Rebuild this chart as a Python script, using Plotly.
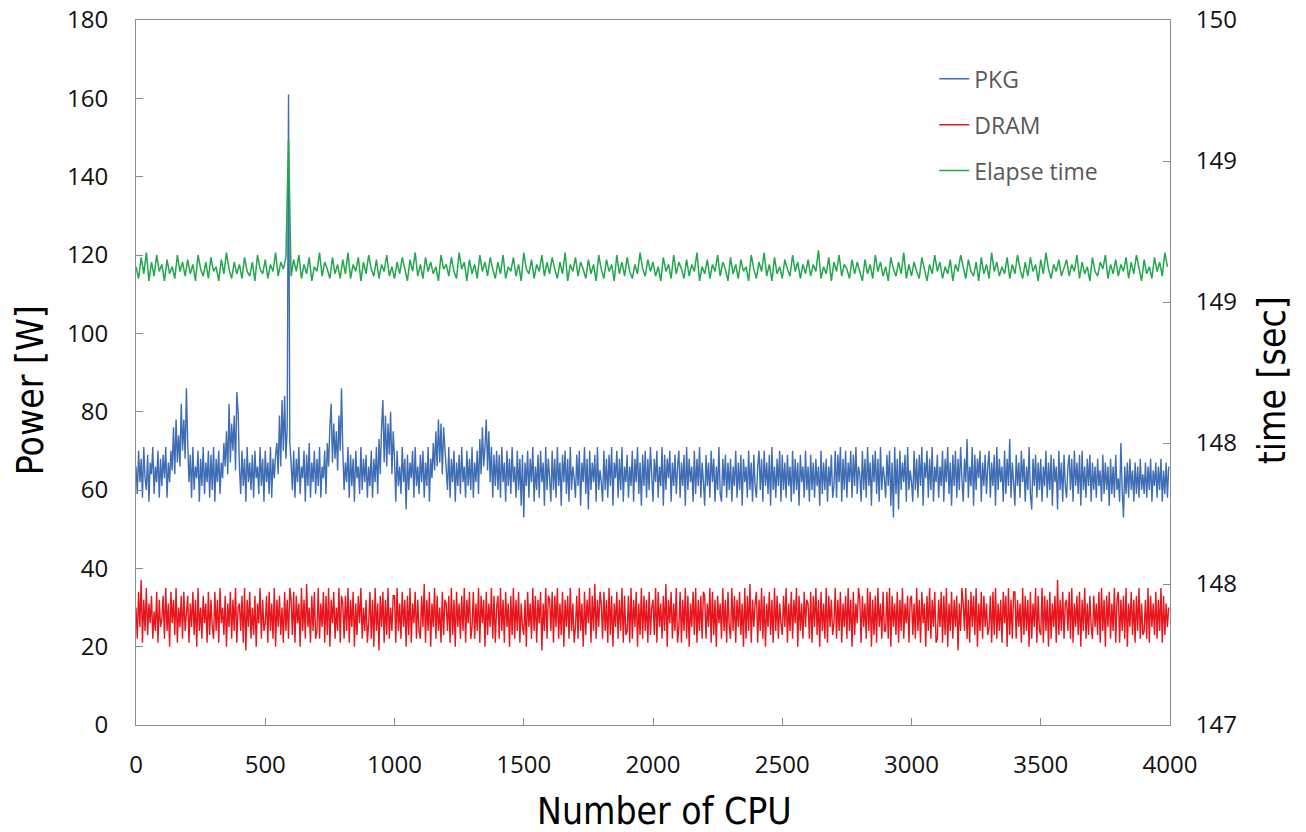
import plotly.graph_objects as go

# CPU index for the power series (every 5 CPUs) and the time series (every 10 CPUs)
cpu_power = list(range(0, 4000, 5))
cpu_time = list(range(0, 4000, 10))

# PKG power [W]
pkg = [
    66,59,70,62,68,58,71,63,60,69,57,67,64,71,59,66,62,70,58,68,
    61,69,63,71,58,67,62,70,65,76,64,78,67,74,66,82,70,78,68,86,
    72,62,69,58,71,60,66,63,70,57,68,61,71,59,67,62,70,58,69,60,
    71,57,68,62,70,59,67,63,72,66,75,64,82,67,77,70,79,65,85,80,
    66,59,70,61,68,57,71,62,67,60,69,58,70,63,66,59,71,61,68,57,
    70,62,67,59,71,58,68,63,69,72,64,79,66,83,70,84,68,76,161,72,
    67,60,70,58,68,62,71,59,66,63,70,57,69,61,72,58,67,62,70,59,
    68,61,71,58,66,63,70,59,72,66,76,82,67,77,68,75,65,79,70,86,
    70,60,67,62,71,58,69,61,68,57,70,63,66,59,71,60,68,62,69,58,
    66,61,70,58,68,62,71,59,73,64,76,83,67,79,66,77,69,80,64,75,
    68,57,70,61,66,59,71,62,68,55,69,60,67,63,70,58,71,61,66,59,
    69,62,70,58,67,61,71,57,68,63,72,65,75,66,78,67,77,64,76,70,
    66,60,71,58,68,62,70,57,67,61,69,59,71,62,66,58,70,61,68,60,
    71,58,67,62,70,59,73,64,76,66,71,78,65,75,62,71,58,69,61,70,
    60,69,58,71,62,67,57,70,61,68,59,71,62,66,58,70,60,68,56,69,
    53,67,61,70,58,68,62,71,57,66,60,69,58,70,62,67,56,71,60,68,
    63,57,70,60,68,58,71,61,67,56,69,62,70,59,68,57,71,60,66,63,
    58,69,61,70,56,67,62,71,59,68,55,70,60,67,62,69,57,71,60,65,
    62,57,70,60,68,58,69,61,71,56,67,63,70,58,68,60,71,57,66,62,
    69,58,66,61,70,57,68,62,71,59,67,56,69,61,70,58,68,60,71,63,
    57,68,62,70,58,66,61,71,56,69,60,68,63,70,57,67,61,69,59,66,
    70,58,67,61,69,56,71,60,68,62,66,57,70,59,68,61,71,58,67,62,
    56,69,61,67,58,70,62,68,57,66,60,71,59,57,68,61,69,58,67,60,
    68,57,66,61,70,58,67,60,69,56,68,62,66,58,70,60,67,57,69,61,
    58,66,70,60,68,57,70,61,67,59,69,56,71,60,66,58,68,61,70,57,
    69,60,67,58,69,61,66,57,70,59,68,60,67,56,69,62,66,58,70,60,
    66,57,69,60,67,58,68,61,66,56,70,59,67,60,68,57,66,61,69,58,
    61,70,58,69,62,71,57,68,60,70,58,67,62,70,58,69,61,71,59,66,
    64,57,70,60,68,58,71,61,67,56,69,62,70,59,68,57,71,60,66,63,
    58,69,61,70,56,67,53,71,59,68,55,70,60,67,62,69,57,71,60,65,
    62,57,70,60,68,58,69,61,71,56,67,63,70,58,68,60,71,57,66,62,
    69,58,66,61,70,57,68,62,71,59,67,56,69,61,70,58,68,60,71,63,
    57,68,62,73,58,66,61,71,56,69,60,68,63,70,57,67,61,69,59,66,
    70,58,67,61,69,56,71,60,68,62,66,57,70,59,68,61,73,58,67,62,
    56,69,61,67,58,70,62,68,57,66,60,71,59,55,68,61,69,58,67,60,
    68,57,66,61,70,58,67,60,69,56,68,62,66,55,70,60,67,57,69,61,
    58,66,69,60,68,57,70,61,67,59,69,56,70,60,66,58,68,61,69,57,
    67,60,66,58,68,61,65,57,69,59,67,60,66,56,68,59,66,58,69,60,
    63,57,72,60,53,66,59,67,58,68,60,65,57,67,59,66,58,68,60,64,
    59,67,58,66,60,68,57,65,61,67,58,66,60,68,57,65,59,67,58,66,
]

# DRAM power [W]
dram = [
    30,22,34,25,37,21,32,24,35,23,31,26,33,22,29,24,34,21,32,25,
    27,33,22,35,24,31,20,34,26,32,23,35,21,30,25,33,22,34,24,29,
    33,21,31,25,34,23,32,20,35,24,30,22,33,26,31,21,34,23,32,25,
    22,34,24,32,21,35,26,30,23,33,20,31,25,34,22,32,24,35,21,30,
    31,24,33,21,35,19,32,25,34,22,30,23,33,20,31,26,35,22,32,24,
    26,33,21,34,24,31,22,35,20,32,25,33,23,30,21,34,24,32,22,35,
    32,23,34,21,33,26,31,20,35,24,32,22,36,25,30,21,33,24,34,22,
    24,35,22,31,25,34,21,33,23,35,20,32,26,34,22,30,24,35,21,33,
    31,22,33,24,35,21,32,25,34,20,31,23,33,26,35,22,30,24,32,21,
    26,34,22,32,20,35,24,31,19,33,25,34,21,32,23,35,22,30,24,33,
    33,21,35,24,31,22,34,25,32,20,33,23,35,21,31,26,34,22,32,24,
    22,33,25,36,21,32,24,34,20,31,25,35,22,33,24,30,21,34,23,32,
    31,24,33,21,35,23,32,20,34,25,31,22,33,24,35,21,32,26,34,22,
    25,34,22,31,24,35,21,33,26,32,20,34,23,31,25,35,22,33,21,30,
    33,22,35,24,32,21,34,25,31,20,33,23,35,22,32,24,34,21,31,25,
    23,32,20,34,25,31,22,35,24,33,21,32,26,34,19,31,24,35,22,33,
    32,24,34,21,33,25,35,22,31,23,34,20,32,25,33,22,35,24,31,21,
    25,33,22,35,24,31,20,34,23,32,26,35,21,33,24,36,22,32,25,34,
    31,22,34,24,32,21,35,23,33,20,31,25,34,22,32,24,35,21,33,23,
    24,33,21,35,22,32,25,34,20,31,23,35,22,33,24,32,21,34,23,30,
    32,23,35,21,34,25,31,22,33,24,36,20,32,26,34,22,31,24,35,21,
    25,34,21,32,24,35,22,33,20,31,25,34,23,35,21,32,24,33,22,34,
    33,22,31,25,35,21,34,23,32,20,33,26,31,22,35,24,32,21,34,25,
    22,35,24,33,21,32,25,34,23,31,20,35,22,33,24,36,21,32,25,31,
    34,21,32,24,35,22,33,20,31,25,34,23,32,21,35,24,33,22,31,26,
    23,33,25,35,21,31,24,34,22,32,26,35,20,33,24,31,22,34,25,32,
    31,22,34,21,33,25,35,23,32,20,34,24,31,22,35,21,33,25,32,23,
    26,35,22,32,24,34,21,31,25,33,22,35,24,32,20,34,23,31,26,35,
    32,21,33,25,31,22,35,24,34,20,32,23,33,21,35,25,31,22,34,24,
    24,34,22,35,20,33,25,31,23,34,21,32,24,35,22,31,26,33,21,32,
    33,23,31,22,35,24,32,21,34,26,31,20,33,24,35,22,32,25,34,21,
    22,32,25,34,21,33,23,35,20,31,24,34,22,32,25,33,19,31,24,35,
    31,24,35,22,32,21,34,25,33,23,35,20,31,24,34,22,33,25,31,23,
    25,33,21,34,23,35,22,31,24,32,21,34,26,33,20,35,23,32,22,34,
    34,22,32,25,31,21,35,23,33,24,32,20,34,22,31,25,35,21,33,24,
    23,35,21,33,24,32,20,34,22,31,25,33,21,37,23,32,24,34,22,31,
    32,24,34,22,35,21,31,25,33,23,34,20,32,24,35,22,31,23,33,25,
    22,33,25,31,23,34,21,35,24,32,20,33,25,34,22,31,24,35,21,32,
    34,21,32,24,33,22,35,20,31,25,34,23,32,21,33,24,35,22,31,23,
    24,32,22,35,21,33,25,31,23,34,22,32,24,35,21,33,23,31,25,30,
]

# Elapse time [sec]
elapse = [
    148.95,148.90,148.99,148.92,149.01,148.89,148.97,148.91,149.00,148.93,148.96,148.89,148.98,148.92,148.95,148.90,149.00,148.93,148.97,148.91,
    148.98,148.92,148.96,148.89,149.00,148.94,148.91,148.97,148.90,148.99,148.93,148.95,148.89,148.98,148.92,149.01,148.94,148.90,148.97,148.92,
    148.96,148.90,148.99,148.93,148.91,148.97,148.89,149.00,148.94,148.92,148.98,148.90,148.96,148.93,149.01,148.91,148.97,148.94,148.99,149.49,
    148.91,148.98,148.93,149.00,148.90,148.96,148.92,148.99,148.89,148.95,148.93,149.01,148.91,148.97,148.94,148.90,148.99,148.92,148.96,148.90,
    148.98,148.92,149.01,148.90,148.96,148.93,148.99,148.89,148.97,148.92,149.00,148.94,148.91,148.98,148.90,148.96,148.93,149.00,148.91,148.95,
    148.90,148.97,148.92,148.99,148.94,148.89,148.98,148.93,149.01,148.91,148.96,148.90,148.99,148.93,148.97,148.92,148.95,148.89,149.00,148.94,
    148.96,148.91,148.99,148.93,148.90,149.01,148.94,148.97,148.89,148.98,148.92,148.96,148.90,149.00,148.93,148.97,148.91,148.99,148.94,148.90,
    148.97,148.92,149.00,148.90,148.95,148.93,148.99,148.91,148.96,148.89,149.01,148.94,148.92,148.98,148.90,148.96,148.93,149.00,148.91,148.97,
    148.92,148.99,148.94,148.90,148.97,148.92,149.01,148.89,148.96,148.93,148.99,148.91,148.97,148.94,148.90,148.98,148.92,148.96,148.89,149.00,
    148.94,148.90,148.98,148.93,148.96,148.89,149.00,148.92,148.97,148.91,148.99,148.93,148.90,148.96,148.92,149.01,148.94,148.91,148.98,148.93,
    148.97,148.91,148.95,148.89,148.99,148.93,148.96,148.90,149.00,148.92,148.97,148.94,148.90,148.98,148.91,148.96,148.93,149.01,148.89,148.95,
    148.92,148.98,148.90,148.96,148.93,149.00,148.91,148.97,148.94,148.89,148.99,148.92,148.96,148.90,148.98,148.93,148.95,148.89,149.00,148.94,
    148.90,148.97,148.93,149.01,148.91,148.96,148.89,148.99,148.92,148.95,148.90,148.98,148.94,148.91,149.00,148.93,148.97,148.90,148.96,148.92,
    148.98,148.91,148.96,148.93,149.02,148.90,148.95,148.92,148.99,148.89,148.97,148.93,149.00,148.91,148.96,148.94,148.90,148.98,148.92,148.97,
    148.93,148.89,148.98,148.92,148.96,148.90,149.00,148.93,148.97,148.91,148.95,148.89,148.99,148.94,148.91,148.97,148.92,149.01,148.90,148.96,
    148.91,148.97,148.93,148.90,148.99,148.94,148.89,148.96,148.92,149.00,148.93,148.97,148.90,148.95,148.92,148.98,148.89,148.96,148.93,149.00,
    148.95,148.90,148.98,148.93,148.91,148.97,148.89,148.99,148.92,148.96,148.90,149.01,148.93,148.97,148.91,148.95,148.92,148.99,148.90,148.96,
    148.92,149.00,148.94,148.90,148.97,148.91,148.99,148.93,148.96,148.89,148.98,148.92,149.01,148.94,148.90,148.96,148.93,148.98,148.91,148.95,
    148.98,148.91,148.96,148.93,149.00,148.90,148.97,148.92,148.95,148.89,148.99,148.93,148.91,148.97,148.94,149.00,148.90,148.96,148.92,148.98,
    148.91,148.96,148.93,148.99,148.90,148.97,148.92,149.00,148.94,148.89,148.98,148.92,148.95,148.90,148.99,148.93,148.97,148.91,149.01,148.95,
]

series_names = ["PKG", "DRAM", "Elapse time"]
series_colors = ["#3F6DB4", "#E8151C", "#22A74C"]

AX = "#8C8C8C"
TICKFONT = dict(family="Open Sans, DejaVu Sans, sans-serif", size=24, color="#111111")
TITLEFONT = dict(family="DejaVu Sans Condensed, Liberation Sans, sans-serif", size=37, color="#000000")

fig = go.Figure()
fig.add_trace(go.Scatter(x=cpu_power, y=pkg, name=series_names[0], mode="lines",
                         line=dict(color=series_colors[0], width=1.4), legendgroup="a"))
fig.add_trace(go.Scatter(x=cpu_power, y=dram, name=series_names[1], mode="lines",
                         line=dict(color=series_colors[1], width=1.4), legendgroup="b"))
fig.add_trace(go.Scatter(x=cpu_time, y=elapse, name=series_names[2], mode="lines", yaxis="y2",
                         line=dict(color=series_colors[2], width=1.5), legendgroup="c"))

fig.update_layout(
    width=1298, height=824,
    margin=dict(l=128, r=136, t=12, b=107, autoexpand=False),
    paper_bgcolor="white", plot_bgcolor="white",
    xaxis=dict(range=[0, 4000], dtick=500, tick0=0, showgrid=False, zeroline=False,
               showline=True, linecolor=AX, linewidth=1, mirror=True, automargin=False,
               ticks="inside", ticklen=7, tickcolor=AX, tickfont=TICKFONT,
               ticklabelstandoff=18, ticklabeloverflow="allow"),
    yaxis=dict(range=[0, 180], dtick=20, tick0=0, showgrid=False, zeroline=False,
               showline=True, linecolor=AX, linewidth=1, automargin=False,
               ticks="inside", ticklen=7, tickcolor=AX, tickfont=TICKFONT,
               ticklabelstandoff=22, ticklabeloverflow="allow"),
    yaxis2=dict(range=[147, 150], dtick=0.6, tick0=147, tickformat=".0f",
                overlaying="y", side="right", showgrid=False, zeroline=False,
                showline=True, linecolor=AX, linewidth=1, automargin=False,
                ticks="inside", ticklen=7, tickcolor=AX, tickfont=TICKFONT,
                ticklabelstandoff=20, ticklabeloverflow="allow"),
    legend=dict(x=0.772, y=0.947, xanchor="left", yanchor="top",
                bgcolor="rgba(0,0,0,0)", traceorder="grouped", tracegroupgap=13,
                font=dict(family="Open Sans, Noto Sans, sans-serif", size=23, color="#595959")),
    annotations=[
        dict(text="Power [W]", xref="paper", yref="paper", x=-0.1025, y=0.475,
             xanchor="center", yanchor="middle", textangle=-90, showarrow=False, font=TITLEFONT),
        dict(text="Number of CPU", xref="paper", yref="paper", x=0.5116, y=-0.1234,
             xanchor="center", yanchor="middle", showarrow=False, font=TITLEFONT),
        dict(text="time [sec]", xref="paper", yref="paper", x=1.0986, y=0.489,
             xanchor="center", yanchor="middle", textangle=-90, showarrow=False, font=TITLEFONT),
    ],
)

fig.write_html("out.html")
